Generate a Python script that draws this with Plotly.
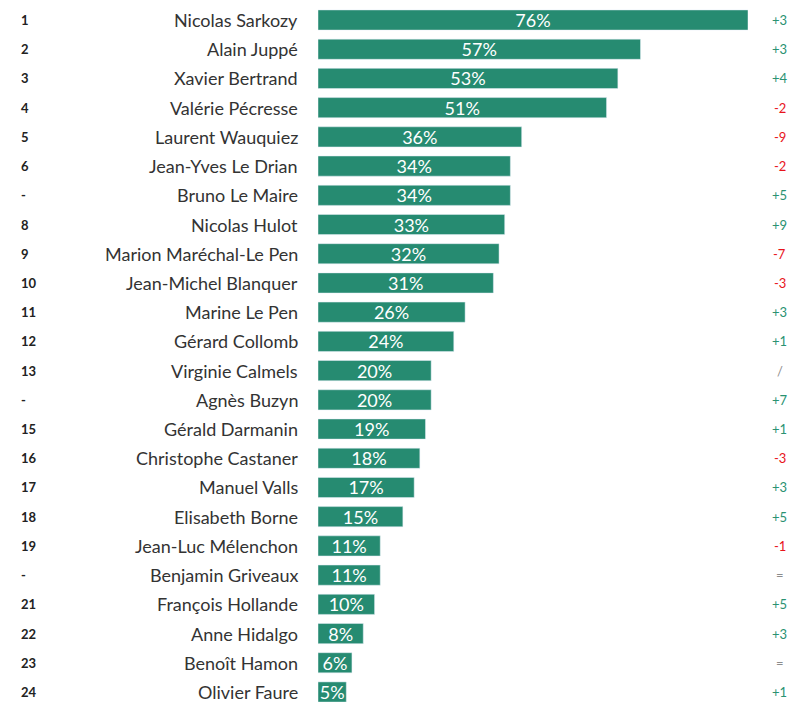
import plotly.graph_objects as go

ranks = ["1", "2", "3", "4", "5", "6", "-", "8", "9", "10", "11", "12",
         "13", "-", "15", "16", "17", "18", "19", "-", "21", "22", "23", "24"]
names = ["Nicolas Sarkozy", "Alain Juppé", "Xavier Bertrand", "Valérie Pécresse",
         "Laurent Wauquiez", "Jean-Yves Le Drian", "Bruno Le Maire", "Nicolas Hulot",
         "Marion Maréchal-Le Pen", "Jean-Michel Blanquer", "Marine Le Pen", "Gérard Collomb",
         "Virginie Calmels", "Agnès Buzyn", "Gérald Darmanin", "Christophe Castaner",
         "Manuel Valls", "Elisabeth Borne", "Jean-Luc Mélenchon", "Benjamin Griveaux",
         "François Hollande", "Anne Hidalgo", "Benoît Hamon", "Olivier Faure"]
values = [76, 57, 53, 51, 36, 34, 34, 33, 32, 31, 26, 24,
          20, 20, 19, 18, 17, 15, 11, 11, 10, 8, 6, 5]
changes = ["+3", "+3", "+4", "-2", "-9", "-2", "+5", "+9", "-7", "-3", "+3", "+1",
           "/", "+7", "+1", "-3", "+3", "+5", "-1", "=", "+5", "+3", "=", "+1"]

BAR = "#268B71"
GREEN = "#2A9272"
RED = "#E8141B"
GRAY = "#8C8C8C"
FONT = "Lato"

idx = list(range(len(names)))

fig = go.Figure()
fig.add_trace(go.Bar(
    x=values, y=idx, orientation="h",
    marker=dict(color=BAR),
    width=0.69,
    text=[f"{v}%" for v in values],
    textposition="inside", insidetextanchor="middle",
    constraintext="none",
    textfont=dict(family=FONT, size=18, color="white"),
    hoverinfo="skip",
    cliponaxis=False,
))

ann = []
for i, (r, n, c) in enumerate(zip(ranks, names, changes)):
    ann.append(dict(x=-0.695, y=i, xref="paper", yref="y", text=f"<b>{r}</b>",
                    showarrow=False, xanchor="left", yanchor="middle",
                    font=dict(family=FONT, size=13, color="#222222")))
    ann.append(dict(x=0, y=i, xref="paper", yref="y", text=n, xshift=-18,
                    showarrow=False, xanchor="right", yanchor="middle",
                    font=dict(family=FONT, size=18, color="#333333")))
    if c.startswith("+"):
        col = GREEN
    elif c.startswith("-"):
        col = RED
    else:
        col = GRAY
    ann.append(dict(x=1.074, y=i, xref="paper", yref="y", text=c,
                    showarrow=False, xanchor="center", yanchor="middle",
                    font=dict(family=FONT, size=13, color=col)))

fig.update_layout(
    width=792, height=702,
    margin=dict(l=318, r=44, t=0, b=0),
    paper_bgcolor="white", plot_bgcolor="white",
    showlegend=False,
    xaxis=dict(range=[0, 76], visible=False),
    yaxis=dict(range=[23 + 10 / 29.2, -20 / 29.2], visible=False),
    annotations=ann,
)

fig.write_html("out.html", config={"displayModeBar": False},
               post_script="document.body.style.margin='0px';document.body.style.overflow='hidden';")
